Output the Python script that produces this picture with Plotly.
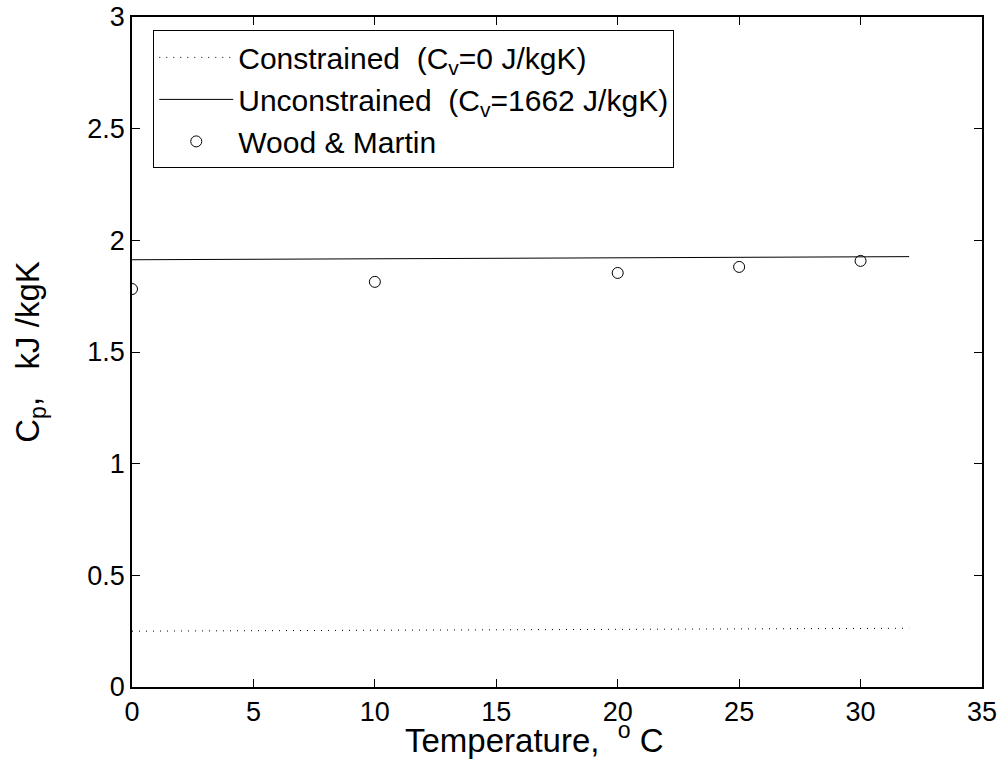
import plotly.graph_objects as go

# Data
line_x = [0, 32]
constrained_y = [0.250, 0.263]
unconstrained_y = [1.913, 1.927]
wm_x = [0, 10, 20, 25, 30]
wm_y = [1.782, 1.814, 1.854, 1.881, 1.908]

x_ticks = [0, 5, 10, 15, 20, 25, 30, 35]
y_ticks = [0, 0.5, 1, 1.5, 2, 2.5, 3]
y_tick_text = ["0", "0.5", "1", "1.5", "2", "2.5", "3"]

NB = "\u00a0"
FONT = "Liberation Sans, Arial, Helvetica"
fig = go.Figure()
fig.add_trace(go.Scatter(
    x=line_x, y=constrained_y, mode="lines",
    line=dict(color="black", width=1, dash="1px,6px"),
    name=f"Constrained{NB}{NB}(C<sub>v</sub>=0 J/kgK)"))
fig.add_trace(go.Scatter(
    x=line_x, y=unconstrained_y, mode="lines",
    line=dict(color="black", width=1),
    name=f"Unconstrained{NB}{NB}(C<sub>v</sub>=1662 J/kgK)"))
fig.add_trace(go.Scatter(
    x=wm_x, y=wm_y, mode="markers",
    marker=dict(symbol="circle-open", size=11, color="black", line=dict(width=1, color="black")),
    name="Wood & Martin"))

axis_common = dict(
    showgrid=False, zeroline=False, showline=True, linecolor="black", linewidth=1.5,
    mirror="ticks", ticks="inside", ticklen=8, tickcolor="black", tickwidth=1,
    tickfont=dict(family=FONT, size=27, color="black"), automargin=False,
)
fig.update_layout(
    width=1005, height=769,
    margin=dict(l=132, r=23, t=17, b=82, autoexpand=False),
    paper_bgcolor="white", plot_bgcolor="white",
    font=dict(family=FONT, color="black"),
    xaxis=dict(range=[0, 35], tickvals=x_ticks, **axis_common),
    yaxis=dict(range=[0, 3], tickvals=y_ticks, ticktext=y_tick_text,
               title=dict(text=f"C<sub>p</sub>,{NB}{NB}{NB}kJ /kgK",
                          font=dict(size=33, family=FONT), standoff=38),
               **axis_common),
    legend=dict(x=0.025, y=0.98, xanchor="left", yanchor="top",
                bordercolor="black", borderwidth=1, bgcolor="white",
                font=dict(size=30, family=FONT),
                tracegroupgap=0, itemwidth=74),
    showlegend=True,
    annotations=[dict(
        text=f"Temperature,{NB}{NB}<sup>o</sup>{NB}C",
        xref="paper", yref="paper", x=0.473, y=-0.042,
        xanchor="center", yanchor="top", showarrow=False,
        font=dict(size=33, family=FONT, color="black"))],
)
fig.write_html("out.html")
